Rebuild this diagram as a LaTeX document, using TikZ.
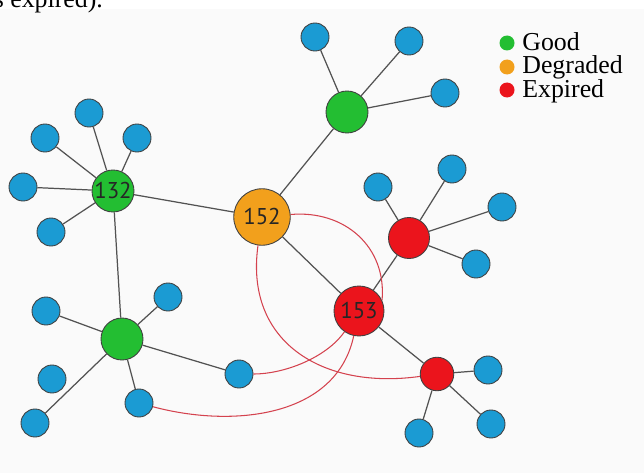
\documentclass[tikz,border=0pt]{standalone}
\usepackage{fontspec}
\setmainfont{Liberation Serif}
\newfontfamily\numfont{PT Sans}
\usepackage{tikz}
\definecolor{nodeblue}{RGB}{27,155,211}
\definecolor{nodegreen}{RGB}{35,190,50}
\definecolor{nodeorange}{RGB}{242,160,28}
\definecolor{nodered}{RGB}{235,20,28}
\definecolor{linkred}{RGB}{212,66,78}
\definecolor{paper}{RGB}{250,250,250}
\tikzstyle{point}=[circle, draw=black!75, line width=0.5pt, inner sep=0pt, font=\numfont\fontsize{13}{13}\selectfont, text=black!85]
\tikzstyle{pointblue}=[point, fill=nodeblue, minimum size=0.56cm]
\tikzstyle{pointgreen}=[point, fill=nodegreen, minimum size=0.84cm]
\tikzstyle{pointorange}=[point, fill=nodeorange, minimum size=1.13cm]
\tikzstyle{pointred}=[point, fill=nodered]
\tikzstyle{dot}=[circle, inner sep=0pt, minimum size=0.3cm]
\tikzstyle{legendtext}=[anchor=base west, inner sep=0pt, font=\fontsize{14.7}{14.7}\selectfont]
\tikzstyle{link}=[draw=black!68, line width=0.7pt]
\tikzstyle{redlink}=[draw=linkred, line width=0.6pt]

\begin{document}
\begin{tikzpicture}
		   \useasboundingbox (0,0) rectangle (12.88,9.46);
		   \clip (0,0) rectangle (12.88,9.46);
		   \fill[paper] (0,0) rectangle (12.88,9.28);
		   \node (cap) at (-0.13,9.314)[legendtext] {s expired).};
		   \begin{scope}
			   \node (0) at (2.26, 5.64)[pointgreen] {132};
			   \node (1) at (5.24, 5.12)[pointorange] {152};
			   \node (2) at (6.94, 7.22)[pointgreen] {};
			   \node (3) at (7.18, 3.24)[pointred, minimum size=1.0cm] {153};
			   \node (4) at (8.18, 4.70)[pointred, minimum size=0.82cm] {};
			   \node (5) at (8.74, 1.98)[pointred, minimum size=0.67cm] {};
			   \node (6) at (2.44, 2.68)[pointgreen] {};
			   \node (7) at (1.78, 7.20)[pointblue] {};
			   \node (8) at (0.90, 6.70)[pointblue] {};
			   \node (9) at (2.74, 6.70)[pointblue] {};
			   \node (10) at (0.46, 5.72)[pointblue] {};
			   \node (11) at (1.02, 4.82)[pointblue] {};
			   \node (12) at (6.30, 8.72)[pointblue] {};
			   \node (13) at (8.18, 8.64)[pointblue] {};
			   \node (14) at (8.90, 7.60)[pointblue] {};
			   \node (15) at (7.56, 5.72)[pointblue] {};
			   \node (16) at (9.04, 6.08)[pointblue] {};
			   \node (17) at (10.04, 5.32)[pointblue] {};
			   \node (18) at (9.52, 4.18)[pointblue] {};
			   \node (19) at (9.76, 2.06)[pointblue] {};
			   \node (20) at (9.82, 0.98)[pointblue] {};
			   \node (21) at (8.38, 0.80)[pointblue] {};
			   \node (22) at (0.92, 3.24)[pointblue] {};
			   \node (23) at (3.36, 3.52)[pointblue] {};
			   \node (24) at (0.70, 1.00)[pointblue] {};
			   \node (25) at (2.78, 1.40)[pointblue] {};
			   \node (26) at (4.78, 1.98)[pointblue] {};
			   \node (27) at (1.04, 1.88)[pointblue] {};
		   \end{scope}
		   \begin{scope}
			   \path [link] (0) edge (1);
			   \path [link] (0) edge (6);
			   \path [link] (1) edge (2);
			   \path [link] (1) edge (3);
			   \path [link] (3) edge (4);
			   \path [link] (3) edge (5);
			   \path [link] (0) edge (7);
			   \path [link] (0) edge (8);
			   \path [link] (0) edge (9);
			   \path [link] (0) edge (10);
			   \path [link] (0) edge (11);
			   \path [link] (2) edge (12);
			   \path [link] (2) edge (13);
			   \path [link] (2) edge (14);
			   \path [link] (4) edge (15);
			   \path [link] (4) edge (16);
			   \path [link] (4) edge (17);
			   \path [link] (4) edge (18);
			   \path [link] (5) edge (19);
			   \path [link] (5) edge (20);
			   \path [link] (5) edge (21);
			   \path [link] (6) edge (22);
			   \path [link] (6) edge (23);
			   \path [link] (6) edge (24);
			   \path [link] (6) edge (25);
			   \path [link] (6) edge (26);
		   \end{scope}
		   \begin{scope}
			   \path [redlink] (1) edge [out=5, in=85, looseness=1.1] (3.25);
			   \path [redlink] (3) edge [out=235, in=0, looseness=0.8] (26);
			   \path [redlink] (3) edge [out=258, in=-15] (25);
			   \path [redlink] (1) edge [out=262, in=188, looseness=1.2] (5);
		   \end{scope}
		   \begin{scope}
			   \node (g) at (10.14, 8.60)[dot, fill=nodegreen] {};
			   \node (d) at (10.14, 8.12)[dot, fill=nodeorange] {};
			   \node (e) at (10.14, 7.66)[dot, fill=nodered] {};
			   \node (gt) at (10.44, 8.44)[legendtext] {Good};
			   \node (dt) at (10.44, 7.99)[legendtext] {Degraded};
			   \node (et) at (10.44, 7.52)[legendtext] {Expired};
		   \end{scope}
	   \end{tikzpicture}
\end{document}
